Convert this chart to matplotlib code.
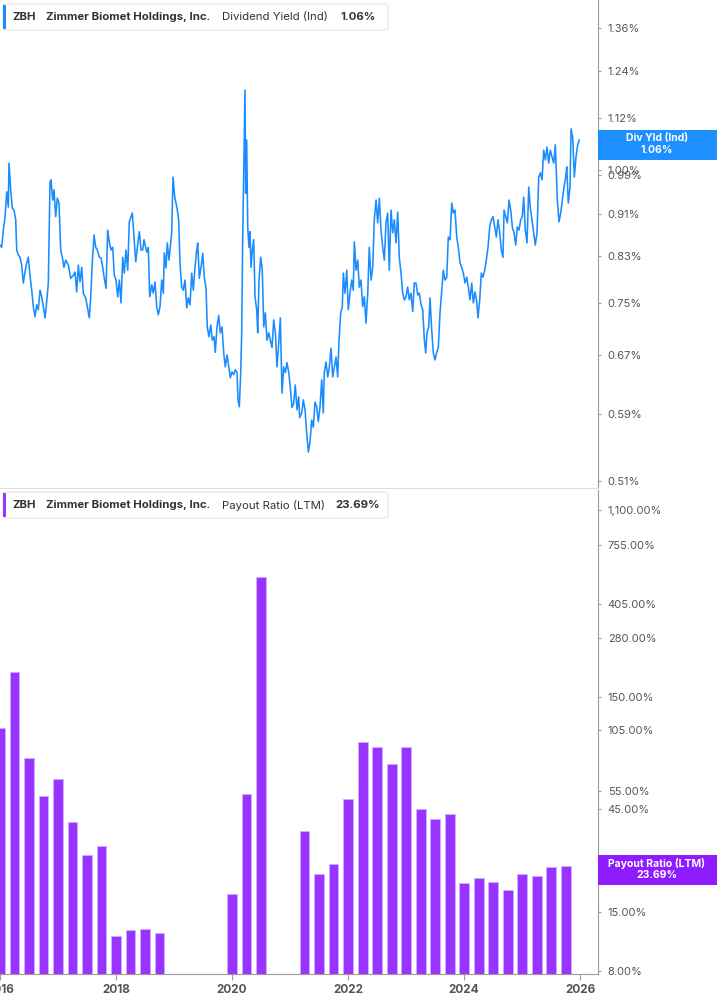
import numpy as np
import matplotlib.pyplot as plt
from matplotlib.patches import FancyBboxPatch, Rectangle
from matplotlib.ticker import FixedLocator, FuncFormatter, NullLocator

plt.rcParams['font.family'] = ['Inter', 'DejaVu Sans']

# --- data: dividend yield (%) ---
yld_years = [
    2016.000, 2016.029, 2016.057, 2016.086, 2016.116, 2016.143, 2016.155, 2016.184, 2016.212, 2016.241,
    2016.271, 2016.288, 2016.316, 2016.345, 2016.374, 2016.402, 2016.431, 2016.460, 2016.488, 2016.517,
    2016.547, 2016.574, 2016.603, 2016.633, 2016.660, 2016.690, 2016.719, 2016.747, 2016.776, 2016.805,
    2016.833, 2016.862, 2016.879, 2016.909, 2016.931, 2016.960, 2016.988, 2017.017, 2017.047, 2017.074,
    2017.103, 2017.133, 2017.178, 2017.219, 2017.264, 2017.293, 2017.322, 2017.350, 2017.379, 2017.409,
    2017.436, 2017.478, 2017.505, 2017.540, 2017.564, 2017.591, 2017.621, 2017.650, 2017.678, 2017.712,
    2017.741, 2017.771, 2017.798, 2017.828, 2017.857, 2017.884, 2017.914, 2017.943, 2017.971, 2018.000,
    2018.029, 2018.057, 2018.086, 2018.116, 2018.143, 2018.172, 2018.202, 2018.229, 2018.259, 2018.281,
    2018.310, 2018.340, 2018.367, 2018.402, 2018.431, 2018.460, 2018.483, 2018.529, 2018.557, 2018.581,
    2018.616, 2018.643, 2018.672, 2018.702, 2018.729, 2018.759, 2018.788, 2018.816, 2018.833, 2018.862,
    2018.884, 2018.914, 2018.943, 2018.960, 2018.983, 2019.012, 2019.034, 2019.057, 2019.081, 2019.103,
    2019.133, 2019.160, 2019.190, 2019.219, 2019.247, 2019.276, 2019.305, 2019.333, 2019.362, 2019.391,
    2019.409, 2019.436, 2019.466, 2019.495, 2019.522, 2019.552, 2019.574, 2019.603, 2019.633, 2019.660,
    2019.690, 2019.712, 2019.741, 2019.771, 2019.798, 2019.828, 2019.857, 2019.884, 2019.914, 2019.943,
    2019.971, 2020.000, 2020.029, 2020.057, 2020.086, 2020.103, 2020.126, 2020.150, 2020.167, 2020.184,
    2020.207, 2020.224, 2020.236, 2020.253, 2020.271, 2020.293, 2020.310, 2020.328, 2020.350, 2020.374,
    2020.397, 2020.426, 2020.443, 2020.466, 2020.495, 2020.522, 2020.547, 2020.574, 2020.603, 2020.633,
    2020.660, 2020.690, 2020.719, 2020.747, 2020.776, 2020.805, 2020.833, 2020.862, 2020.891, 2020.919,
    2020.948, 2020.978, 2021.005, 2021.034, 2021.064, 2021.091, 2021.121, 2021.150, 2021.167, 2021.202,
    2021.229, 2021.259, 2021.288, 2021.316, 2021.345, 2021.374, 2021.402, 2021.431, 2021.460, 2021.488,
    2021.517, 2021.547, 2021.574, 2021.591, 2021.621, 2021.650, 2021.678, 2021.707, 2021.736, 2021.764,
    2021.793, 2021.822, 2021.845, 2021.874, 2021.902, 2021.919, 2021.948, 2021.978, 2022.005, 2022.034,
    2022.064, 2022.091, 2022.109, 2022.138, 2022.167, 2022.195, 2022.224, 2022.253, 2022.281, 2022.310,
    2022.340, 2022.367, 2022.397, 2022.426, 2022.453, 2022.483, 2022.512, 2022.540, 2022.569, 2022.598,
    2022.626, 2022.655, 2022.684, 2022.712, 2022.741, 2022.771, 2022.798, 2022.828, 2022.857, 2022.884,
    2022.914, 2022.943, 2022.971, 2023.000, 2023.029, 2023.057, 2023.086, 2023.116, 2023.143, 2023.172,
    2023.202, 2023.229, 2023.259, 2023.288, 2023.316, 2023.340, 2023.362, 2023.391, 2023.414, 2023.443,
    2023.471, 2023.500, 2023.529, 2023.557, 2023.586, 2023.616, 2023.643, 2023.672, 2023.702, 2023.729,
    2023.759, 2023.788, 2023.816, 2023.845, 2023.874, 2023.902, 2023.931, 2023.960, 2023.988, 2024.017,
    2024.047, 2024.074, 2024.103, 2024.133, 2024.160, 2024.190, 2024.219, 2024.241, 2024.271, 2024.298,
    2024.328, 2024.357, 2024.384, 2024.414, 2024.443, 2024.471, 2024.500, 2024.529, 2024.557, 2024.586,
    2024.616, 2024.643, 2024.672, 2024.690, 2024.719, 2024.747, 2024.776, 2024.805, 2024.833, 2024.862,
    2024.891, 2024.919, 2024.948, 2024.978, 2025.005, 2025.029, 2025.057, 2025.086, 2025.116, 2025.143,
    2025.172, 2025.202, 2025.229, 2025.259, 2025.288, 2025.316, 2025.345, 2025.374, 2025.402, 2025.431,
    2025.460, 2025.488, 2025.517, 2025.547, 2025.574, 2025.591, 2025.609, 2025.638, 2025.667, 2025.695,
    2025.724, 2025.753, 2025.771, 2025.798, 2025.828, 2025.845, 2025.874, 2025.902, 2025.931, 2025.960,
    2025.988,
]
yld_values = [
    0.850, 0.846, 0.878, 0.902, 0.954, 0.923, 1.015, 0.958, 0.921, 0.917,
    0.898, 0.841, 0.832, 0.828, 0.814, 0.783, 0.802, 0.818, 0.828, 0.796,
    0.771, 0.744, 0.728, 0.747, 0.739, 0.771, 0.760, 0.744, 0.726, 0.752,
    0.783, 0.973, 0.979, 0.937, 0.958, 0.904, 0.941, 0.931, 0.841, 0.828,
    0.810, 0.823, 0.814, 0.791, 0.796, 0.802, 0.768, 0.814, 0.785, 0.810,
    0.766, 0.758, 0.744, 0.726, 0.760, 0.818, 0.869, 0.846, 0.841, 0.828,
    0.827, 0.810, 0.791, 0.774, 0.878, 0.856, 0.841, 0.846, 0.796, 0.788,
    0.760, 0.788, 0.750, 0.828, 0.800, 0.841, 0.805, 0.894, 0.904, 0.911,
    0.865, 0.820, 0.845, 0.875, 0.841, 0.841, 0.860, 0.837, 0.846, 0.760,
    0.780, 0.766, 0.785, 0.744, 0.731, 0.744, 0.788, 0.766, 0.836, 0.809,
    0.854, 0.823, 0.854, 0.873, 0.985, 0.943, 0.931, 0.917, 0.898, 0.818,
    0.776, 0.771, 0.788, 0.742, 0.758, 0.747, 0.800, 0.771, 0.810, 0.841,
    0.854, 0.791, 0.810, 0.835, 0.793, 0.774, 0.712, 0.697, 0.715, 0.692,
    0.697, 0.674, 0.712, 0.730, 0.703, 0.712, 0.673, 0.653, 0.670, 0.653,
    0.638, 0.646, 0.642, 0.649, 0.645, 0.608, 0.599, 0.645, 0.703, 0.860,
    1.029, 1.189, 0.951, 1.067, 0.884, 0.846, 0.875, 0.810, 0.841, 0.860,
    0.760, 0.739, 0.703, 0.788, 0.828, 0.805, 0.712, 0.734, 0.692, 0.703,
    0.692, 0.681, 0.723, 0.703, 0.653, 0.687, 0.726, 0.617, 0.653, 0.645,
    0.659, 0.645, 0.625, 0.598, 0.604, 0.628, 0.595, 0.612, 0.585, 0.591,
    0.608, 0.595, 0.566, 0.543, 0.555, 0.582, 0.573, 0.605, 0.599, 0.580,
    0.599, 0.635, 0.591, 0.645, 0.660, 0.639, 0.653, 0.680, 0.639, 0.653,
    0.667, 0.639, 0.692, 0.734, 0.744, 0.800, 0.766, 0.805, 0.739, 0.766,
    0.788, 0.771, 0.856, 0.805, 0.823, 0.776, 0.788, 0.744, 0.760, 0.718,
    0.766, 0.846, 0.788, 0.810, 0.898, 0.937, 0.892, 0.941, 0.878, 0.846,
    0.823, 0.892, 0.911, 0.805, 0.917, 0.873, 0.898, 0.854, 0.913, 0.828,
    0.800, 0.766, 0.755, 0.760, 0.776, 0.755, 0.766, 0.736, 0.783, 0.783,
    0.763, 0.766, 0.747, 0.739, 0.692, 0.673, 0.703, 0.712, 0.758, 0.707,
    0.673, 0.663, 0.674, 0.681, 0.734, 0.771, 0.805, 0.788, 0.793, 0.865,
    0.860, 0.931, 0.911, 0.917, 0.865, 0.846, 0.818, 0.810, 0.800, 0.783,
    0.793, 0.776, 0.755, 0.783, 0.750, 0.768, 0.752, 0.726, 0.755, 0.800,
    0.793, 0.805, 0.823, 0.846, 0.884, 0.898, 0.904, 0.884, 0.865, 0.898,
    0.873, 0.841, 0.828, 0.917, 0.904, 0.892, 0.937, 0.917, 0.884, 0.873,
    0.850, 0.884, 0.878, 0.898, 0.904, 0.943, 0.878, 0.854, 0.964, 0.921,
    0.898, 0.873, 0.850, 0.873, 0.985, 0.994, 0.979, 1.044, 1.022, 1.051,
    1.015, 1.044, 1.029, 1.015, 1.056, 0.994, 0.937, 0.894, 0.911, 0.937,
    0.964, 0.985, 1.007, 0.931, 0.964, 1.093, 1.072, 0.985, 1.029, 1.056,
    1.067,
]
yld_ticks = [0.51, 0.59, 0.67, 0.75, 0.83, 0.91, 0.99, 1.00, 1.12, 1.24, 1.36]

# --- data: payout ratio (LTM, %), quarterly ---
payout_dates = [
    2016.00, 2016.25, 2016.50, 2016.75, 2017.00, 2017.25, 2017.50, 2017.75,
    2018.00, 2018.25, 2018.50, 2018.75,
    2020.00, 2020.25, 2020.50,
    2021.25, 2021.50, 2021.75, 2022.00, 2022.25, 2022.50, 2022.75, 2023.00,
    2023.25, 2023.50, 2023.75, 2024.00, 2024.25, 2024.50, 2024.75,
    2025.00, 2025.25, 2025.50, 2025.75,
]
payout_values = [
    106.0, 193.0, 77.0, 50.7, 61.5, 38.4, 26.7, 29.4,
    10.6, 11.4, 11.5, 11.0,
    17.2, 51.8, 537.0,
    34.7, 21.5, 24.2, 49.5, 91.0, 86.6, 71.7, 86.4,
    44.3, 39.4, 42.0, 19.4, 20.5, 19.8, 18.1,
    21.5, 21.1, 23.2, 23.69,
]
payout_ticks = [8, 15, 45, 55, 105, 150, 280, 405, 755, 1100]
year_ticks = [2016, 2018, 2020, 2022, 2024, 2026]

BLUE = '#1A8CFF'
PURPLE = '#9933FF'
GREY_TXT = '#555555'
AXIS_C = '#9A9A9A'

W, H = 717, 1005
fig = plt.figure(figsize=(W / 100, H / 100), dpi=100)


def fx(px):
    return px / W


def fy(py):
    return 1 - py / H


ax1 = fig.add_axes([0, fy(488), fx(598), 488 / H])
ax2 = fig.add_axes([0, fy(974), fx(598), (974 - 490) / H])

# top panel: dividend yield line
ax1.plot(yld_years, yld_values, color=BLUE, lw=1.15)
ax1.set_yscale('log')
ax1.set_ylim(0.5024, 1.445)
ax1.set_xlim(2016.0, 2026.31)
ax1.yaxis.set_major_locator(FixedLocator(yld_ticks))
ax1.yaxis.set_minor_locator(NullLocator())
ax1.yaxis.set_major_formatter(FuncFormatter(lambda v, p: f'{v:.2f}%'))
ax1.yaxis.tick_right()
ax1.tick_params(axis='y', length=2, color=AXIS_C, labelcolor=GREY_TXT, labelsize=8, pad=5)
ax1.set_xticks([])
for s in ['left', 'top']:
    ax1.spines[s].set_visible(False)
ax1.spines['right'].set_color(AXIS_C)
ax1.spines['bottom'].set_color('#DDDDDD')

# bottom panel: payout ratio bars
ax2.bar(payout_dates, payout_values, width=0.172, bottom=1, color=PURPLE,
        edgecolor='#D2AEFF', linewidth=0.6)
ax2.set_yscale('log')
ax2.set_ylim(7.75, 1362)
ax2.set_xlim(2016.0, 2026.31)
ax2.yaxis.set_major_locator(FixedLocator(payout_ticks))
ax2.yaxis.set_minor_locator(NullLocator())
ax2.yaxis.set_major_formatter(FuncFormatter(lambda v, p: f'{v:,.2f}%'))
ax2.yaxis.tick_right()
ax2.tick_params(axis='y', length=2, color=AXIS_C, labelcolor=GREY_TXT, labelsize=8, pad=5)
ax2.set_xticks(year_ticks)
ax2.set_xticklabels([str(y) for y in year_ticks], fontweight='bold')
ax2.tick_params(axis='x', length=4, color=AXIS_C, labelcolor=GREY_TXT, labelsize=8.5, pad=3)
for s in ['left', 'top']:
    ax2.spines[s].set_visible(False)
ax2.spines['right'].set_color(AXIS_C)
ax2.spines['bottom'].set_color(AXIS_C)


# legend boxes (top left of each panel)
def legend_box(y_top, color, metric, value, value_x):
    fig.add_artist(FancyBboxPatch((fx(3), fy(y_top + 26)), fx(385), 26 / H,
                                  boxstyle='round,pad=0,rounding_size=0.004',
                                  transform=fig.transFigure, facecolor='white',
                                  edgecolor='#E3E3E3', lw=0.8))
    fig.add_artist(Rectangle((fx(3), fy(y_top + 25)), fx(3), 24 / H,
                             transform=fig.transFigure, facecolor=color, edgecolor='none'))
    yc = fy(y_top + 13)
    fig.text(fx(12), yc, 'ZBH', fontsize=8.2, fontweight='bold', color='#333333', va='center')
    fig.text(fx(46), yc, 'Zimmer Biomet Holdings, Inc.', fontsize=8.2, fontweight='bold',
             color='#333333', va='center')
    fig.text(fx(222), yc, metric, fontsize=8.2, color='#333333', va='center')
    fig.text(fx(value_x), yc, value, fontsize=8.2, fontweight='bold', color='#333333', va='center')


legend_box(4, BLUE, 'Dividend Yield (Ind)', '1.06%', 340)
legend_box(492, PURPLE, 'Payout Ratio (LTM)', '23.69%', 335)


# current value flags on the right axis
def value_flag(y_top, color, name, value):
    fig.add_artist(Rectangle((fx(598), fy(y_top + 30)), fx(119), 30 / H,
                             transform=fig.transFigure, facecolor=color, edgecolor='none'))
    fig.text(fx(657), fy(y_top + 8), name, fontsize=7.5, fontweight='bold', color='white',
             ha='center', va='center')
    fig.text(fx(657), fy(y_top + 20), value, fontsize=7.5, fontweight='bold', color='white',
             ha='center', va='center')


value_flag(130, '#1E8FFF', 'Div Yld (Ind)', '1.06%')
value_flag(855, '#8E1CFF', 'Payout Ratio (LTM)', '23.69%')

fig.savefig('out.png', dpi=100)
